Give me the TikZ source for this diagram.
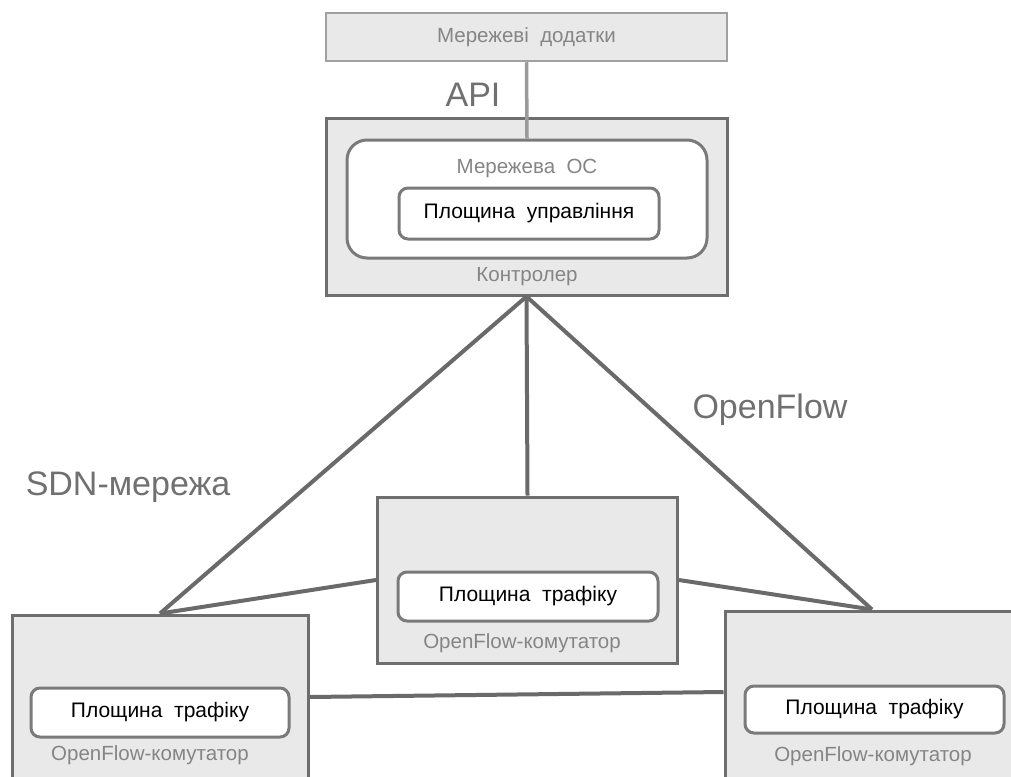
\documentclass[tikz,border=0pt]{standalone}
\usepackage{fontspec}
\setmainfont{Liberation Sans}
\definecolor{panelbg}{HTML}{E9E9E9}
\definecolor{edge}{HTML}{6E6E6E}
\definecolor{applight}{HTML}{A0A0A0}
\definecolor{planeline}{HTML}{7A7A7A}
\definecolor{captxt}{HTML}{858585}
\definecolor{bigtxt}{HTML}{707070}
\definecolor{linkc}{HTML}{6A6A6A}
\definecolor{apic}{HTML}{9A9A9A}
\tikzset{
  panel/.style={draw=edge, fill=panelbg, line width=3pt, inner sep=0pt},
  appbox/.style={draw=applight, fill=panelbg, line width=2.5pt, inner sep=0pt,
    text=captxt, font=\fontsize{20.5}{24}\selectfont},
  plane/.style={draw=planeline, fill=white, rounded corners=9pt, line width=3pt,
    inner sep=0pt, text=black, font=\fontsize{21}{25}\selectfont},
  osbox/.style={draw=planeline, fill=white, rounded corners=20pt, line width=3pt, inner sep=0pt},
  caption/.style={text=captxt, font=\fontsize{20.5}{24}\selectfont, inner sep=0pt},
  biglabel/.style={text=bigtxt, font=\fontsize{34}{40}\selectfont, inner sep=0pt},
  link/.style={draw=linkc, line width=4pt},
  apilink/.style={draw=apic, line width=3.5pt},
}
\begin{document}
\begin{tikzpicture}[x=1pt,y=-1pt]
\useasboundingbox (0,0) rectangle (1011,776);
\clip (0,0) rectangle (1011,776);

% applications layer
\node[appbox, minimum width=401pt, minimum height=48pt] (apps) at (526.5,37) {Мережеві\ \ додатки};
\node[biglabel] (api) at (473,95) {API};

% controller with network OS and control plane
\node[panel, minimum width=401pt, minimum height=177pt] (ctrl) at (526.5,206.5) {};
\node[osbox, minimum width=360pt, minimum height=118pt] (os) at (527,199) {};
\node[caption] (ostxt) at (527,168) {Мережева\ \ ОС};
\node[plane, minimum width=260pt, minimum height=51pt] (cplane) at (529,213.5) {Площина\ \ управління};
\node[caption] (ctrltxt) at (527,277) {Контролер};

\draw[apilink] (apps.south) -- (os.north);

% switches
\node[panel, minimum width=300pt, minimum height=166pt] (sm) at (527.5,580) {};
\node[plane, minimum width=260pt, minimum height=49pt] (smp) at (528,596.5) {Площина\ \ трафіку};
\node[caption] (smtxt) at (522,643) {OpenFlow-комутатор};

\node[panel, minimum width=296pt, minimum height=164pt] (sl) at (160,697) {};
\node[plane, minimum width=258pt, minimum height=49pt] (slp) at (160,712.5) {Площина\ \ трафіку};
\node[caption] (sltxt) at (150,755) {OpenFlow-комутатор};

\node[panel, minimum width=294pt, minimum height=189pt] (sr) at (872,705.5) {};
\node[plane, minimum width=259pt, minimum height=47pt] (srp) at (874.5,709.5) {Площина\ \ трафіку};
\node[caption] (srtxt) at (873,756) {OpenFlow-комутатор};

% OpenFlow links
\draw[link] (ctrl.south) -- (sl.north);
\draw[link] (ctrl.south) -- (sm.north);
\draw[link] (ctrl.south) -- (sr.north);
\draw[link] (sm.west) -- (sl.north);
\draw[link] (sm.east) -- (sr.north);
\draw[link] (sl.east) -- ([yshift=13.5pt]sr.west);

\node[biglabel] (sdn) at (128,487) {SDN-мережа};
\node[biglabel] (of) at (770,410) {OpenFlow};
\end{tikzpicture}
\end{document}
